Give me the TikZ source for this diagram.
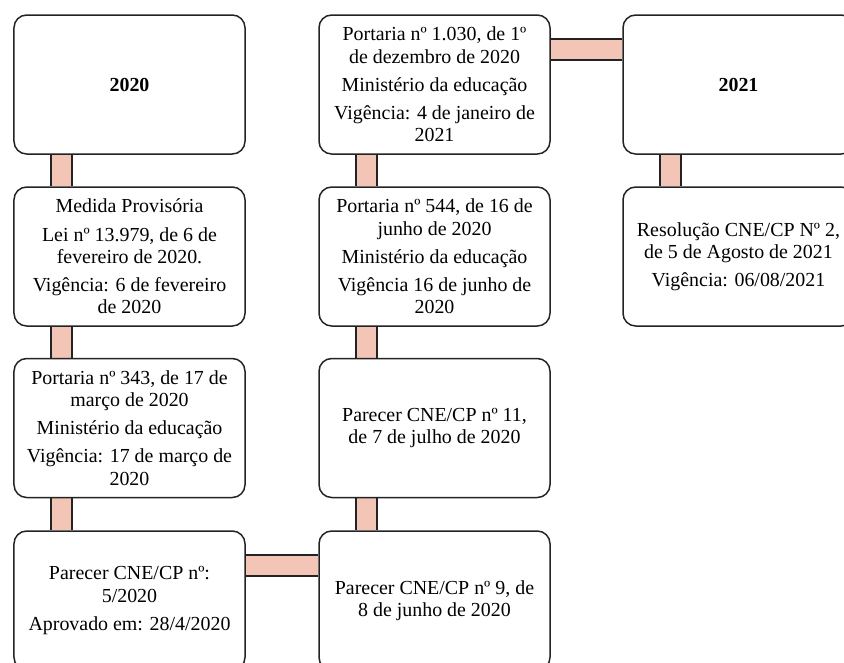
\documentclass[tikz,border=0pt]{standalone}
\usepackage{fontspec}
\setmainfont{Liberation Serif}
\usepackage{tikz}
\usetikzlibrary{calc, backgrounds}
\definecolor{barfill}{RGB}{242,197,182}
\definecolor{edgecolor}{RGB}{35,35,35}
\tikzset{
  box/.style  = {draw=edgecolor, line width=0.45mm, rounded corners=3.8mm, fill=white,
                 minimum width=69.3mm, minimum height=41.7mm, align=center,
                 inner sep=2pt, font=\fontsize{17}{19}\selectfont},
  year/.style = {box, font=\fontsize{17}{19}\selectfont\bfseries},
  bar/.style  = {draw=edgecolor, line width=0.45mm, double=barfill, double distance=5.9mm},
}

\begin{document}
\begin{tikzpicture}[x=0.3mm, y=-0.3mm]
  \useasboundingbox (0,0) rectangle (844,662);
  \clip (0,0) rectangle (844,662);
  % first column
  \node[year] (y2020) at (129.5,84.5) {2020};
  \node[box] (medida) at (129.5,256.5) {Medida Provisória\\[5pt]
    Lei nº 13.979, de 6 de\\ fevereiro de 2020.\\[5pt]
    Vigência: 6 de fevereiro\\ de 2020};
  \node[box] (p343) at (129.5,428) {Portaria nº 343, de 17 de\\ março de 2020\\[5pt]
    Ministério da educação\\[5pt]
    Vigência: 17 de março de\\ 2020};
  \node[box] (parecer5) at (129.5,600.5) {Parecer CNE/CP nº:\\ 5/2020\\[5pt]
    Aprovado em: 28/4/2020};
  % second column
  \node[box] (p1030) at (434.5,84.5) {Portaria nº 1.030, de 1º\\ de dezembro de 2020\\[5pt]
    Ministério da educação\\[5pt]
    Vigência: 4 de janeiro de\\ 2021};
  \node[box] (p544) at (434.5,256.5) {Portaria nº 544, de 16 de\\ junho de 2020\\[5pt]
    Ministério da educação\\[5pt]
    Vigência 16 de junho de\\ 2020};
  \node[box] (parecer11) at (434.5,428) {Parecer CNE/CP nº 11,\\ de 7 de julho de 2020};
  \node[box] (parecer9) at (434.5,600.5) {Parecer CNE/CP nº 9, de\\ 8 de junho de 2020};
  % third column
  \node[year] (y2021) at (738.5,84.5) {2021};
  \node[box] (resolucao) at (738.5,256.5) {Resolução CNE/CP Nº 2,\\ de 5 de Agosto de 2021\\[5pt]
    Vigência: 06/08/2021};
  % connectors
  \begin{scope}[on background layer]
    \foreach \a/\b in {y2020/medida, medida/p343, p343/parecer5,
                       p1030/p544, p544/parecer11, parecer11/parecer9, y2021/resolucao} {
      \draw[bar] ($(\a.south)+(-68,0)$) -- ($(\b.north)+(-68,0)$);
    }
    \draw[bar] ($(parecer5.east)+(0,-35)$) -- ($(parecer9.west)+(0,-35)$);
    \draw[bar] ($(p1030.east)+(0,-35)$) -- ($(y2021.west)+(0,-35)$);
  \end{scope}
\end{tikzpicture}
\end{document}
